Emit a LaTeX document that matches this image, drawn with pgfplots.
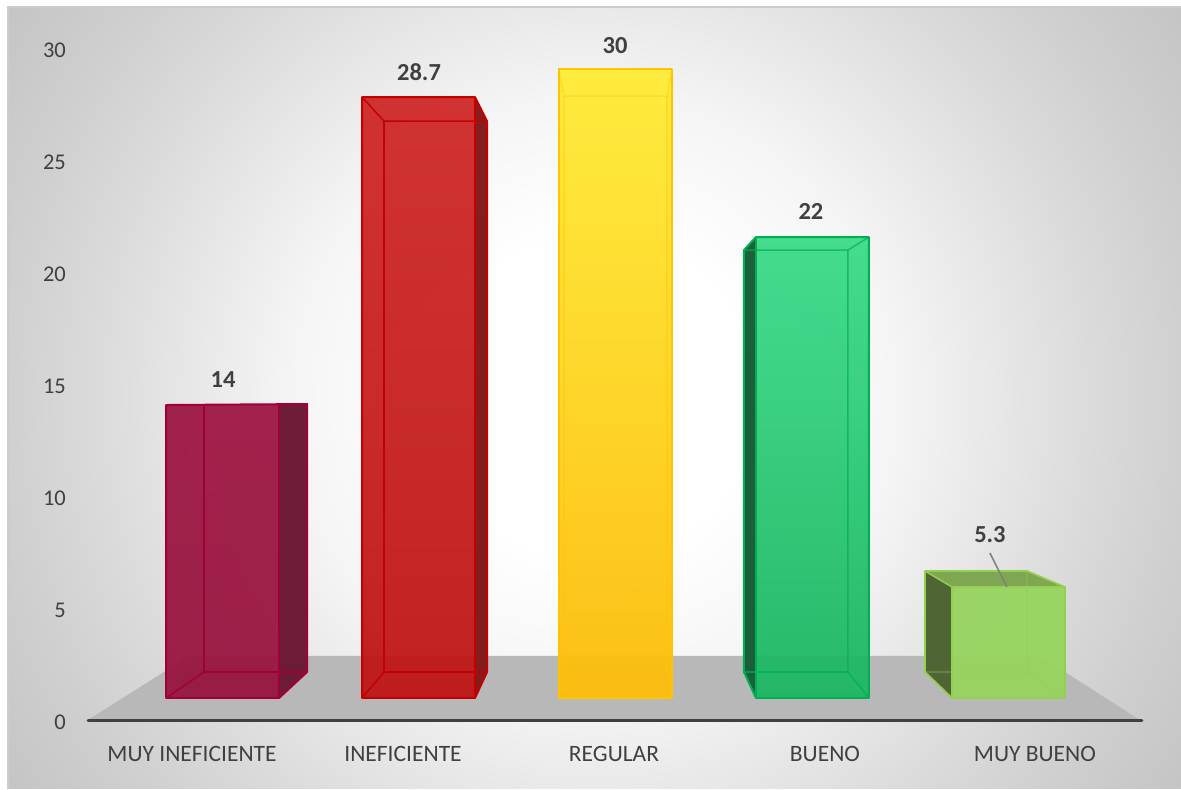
\documentclass[border=0pt]{standalone}
\usepackage{fontspec}
\setmainfont{Carlito}
\usepackage{pgfplots}
\pgfplotsset{compat=1.18}
\definecolor{txt}{HTML}{404040}
\definecolor{ba}{HTML}{9B113F}\definecolor{bab}{HTML}{96103B}\definecolor{bal}{HTML}{A00038}\definecolor{bas}{HTML}{6A1C36}
\definecolor{ca}{HTML}{CF2626}\definecolor{cab}{HTML}{BE1414}\definecolor{cal}{HTML}{C40000}\definecolor{cas}{HTML}{7F1E1E}
\definecolor{da}{HTML}{FFEC35}\definecolor{dab}{HTML}{FDBD0A}\definecolor{dal}{HTML}{FFC400}
\definecolor{ea}{HTML}{3CDB8A}\definecolor{eab}{HTML}{1CB662}\definecolor{eal}{HTML}{00B050}\definecolor{eas}{HTML}{1B5A38}
\definecolor{fa}{HTML}{98D45F}\definecolor{fal}{HTML}{92D050}\definecolor{fas}{HTML}{4F6535}\definecolor{fat}{HTML}{7FA650}
\definecolor{g1}{gray}{.96}\definecolor{g2}{gray}{.855}\definecolor{g3}{gray}{.815}\definecolor{g4}{gray}{.765}
\pgfdeclareradialshading{bgs}{\pgfpointorigin}{%
 color(0bp)=(white); color(5.5bp)=(white); color(10.5bp)=(g1);
 color(17.5bp)=(g2); color(20.5bp)=(g3);
 color(25bp)=(g4); color(50bp)=(g4)}
\begin{document}
\begin{tikzpicture}
\path (0,0) rectangle (1181pt,789pt);
\begin{scope}
\clip (8pt,0pt) rectangle (1181pt,782pt);
\shade[overlay,shading=bgs] (594pt,391pt) circle (720pt);
\end{scope}
\draw[overlay,color=black!20,line width=1.2pt] (8pt,0pt) -- (8pt,782pt) -- (1181pt,782pt);
\begin{axis}[
  scale only axis, width=1181pt, height=789pt,
  xmin=0, xmax=1181, ymin=-2.991, ymax=32.232,
  axis line style={draw=none},
  major tick length=0pt, no markers, clip=false,
  /pgf/number format/assume math mode=true,
  ytick={0,5,10,15,20,25,30},
  yticklabel style={anchor=east,inner sep=0pt,xshift=66pt,font=\fontsize{22.5}{24}\selectfont,text=txt},
  xtick={192,403,614,825,1035},
  xticklabels={MUY INEFICIENTE,INEFICIENTE,REGULAR,BUENO,MUY BUENO},
  xticklabel style={anchor=center,inner sep=0pt,yshift=35pt,font=\fontsize{23.5}{24}\selectfont,text=txt},
]
% floor and axis line
\addplot[draw=none,fill=black!28] coordinates {(88,0.089) (189,2.946) (1040,2.946) (1140,0.089)} -- cycle;
\addplot[draw=txt,line width=3pt,line cap=round] coordinates {(88,0.045) (1142,0.045)};

% bar 1: MUY INEFICIENTE
\addplot[draw=none,top color=ba,bottom color=bab,fill opacity=.92] coordinates {(166,14.152) (307,14.196) (307,2.232) (279,1.071) (166,1.071)} -- cycle;
\addplot[draw=none,fill=bas,fill opacity=.92] coordinates {(279,14.152) (307,14.196) (307,2.232) (279,1.071)} -- cycle;
\addplot[draw=bal,line width=1.5pt] coordinates {(204,14.196) (204,2.232) (307,2.232)};
\addplot[draw=bal,line width=1.5pt] coordinates {(166,1.071) (204,2.232)};
\addplot[draw=bal,line width=2pt,line join=round] coordinates {(166,14.152) (307,14.196) (307,2.232) (279,1.071) (166,1.071)} -- cycle;
\addplot[draw=bal,line width=1.7pt] coordinates {(279,14.152) (279,1.071)};

% bar 2: INEFICIENTE
\addplot[draw=none,top color=ca,bottom color=cab,fill opacity=.94] coordinates {(362,27.902) (475,27.902) (487,26.830) (487,2.232) (475,1.071) (362,1.071)} -- cycle;
\addplot[draw=none,fill=cas,fill opacity=.94] coordinates {(475,27.902) (487,26.830) (487,2.232) (475,1.071)} -- cycle;
\addplot[draw=cal,line width=1.5pt] coordinates {(362,27.902) (384,26.830) (487,26.830)};
\addplot[draw=cal,line width=1.5pt] coordinates {(384,26.830) (384,2.232) (487,2.232)};
\addplot[draw=cal,line width=1.5pt] coordinates {(362,1.071) (384,2.232)};
\addplot[draw=cal,line width=2pt,line join=round] coordinates {(362,27.902) (475,27.902) (487,26.830) (487,2.232) (475,1.071) (362,1.071)} -- cycle;
\addplot[draw=cal,line width=1.7pt] coordinates {(475,27.902) (475,1.071)};

% bar 3: REGULAR
\addplot[draw=none,top color=da,bottom color=dab,fill opacity=.95] coordinates {(559,29.152) (672,29.152) (672,1.071) (559,1.071)} -- cycle;
\addplot[draw=dal,draw opacity=.35,line width=1.5pt] coordinates {(559,29.152) (564,27.946) (667,27.946) (672,29.152)};
\addplot[draw=dal,draw opacity=.35,line width=1.5pt] coordinates {(564,27.946) (564,2.232) (667,2.232) (667,27.946)};
\addplot[draw=dal,draw opacity=.35,line width=1.5pt] coordinates {(559,1.071) (564,2.232)};
\addplot[draw=dal,draw opacity=.35,line width=1.5pt] coordinates {(672,1.071) (667,2.232)};
\addplot[draw=dal,line width=2pt,line join=round] coordinates {(559,29.152) (672,29.152) (672,1.071) (559,1.071)} -- cycle;

% bar 4: BUENO
\addplot[draw=none,top color=ea,bottom color=eab,fill opacity=.95] coordinates {(756,21.652) (869,21.652) (869,1.071) (756,1.071) (744,2.232) (744,21.071)} -- cycle;
\addplot[draw=none,fill=eas,fill opacity=.95] coordinates {(756,21.652) (756,1.071) (744,2.232) (744,21.071)} -- cycle;
\addplot[draw=eal,draw opacity=.7,line width=1.5pt] coordinates {(744,21.071) (848,21.071) (869,21.652)};
\addplot[draw=eal,draw opacity=.7,line width=1.5pt] coordinates {(848,21.071) (848,2.232) (869,1.071)};
\addplot[draw=eal,draw opacity=.7,line width=1.5pt] coordinates {(744,2.232) (848,2.232)};
\addplot[draw=eal,line width=2pt,line join=round] coordinates {(756,21.652) (869,21.652) (869,1.071) (756,1.071) (744,2.232) (744,21.071)} -- cycle;
\addplot[draw=eal,line width=1.7pt] coordinates {(756,21.652) (756,1.071)};

% bar 5: MUY BUENO
\addplot[draw=none,fill=fa,fill opacity=.96] coordinates {(952,6.027) (1065,6.027) (1065,1.071) (952,1.071)} -- cycle;
\addplot[draw=none,fill=fat] coordinates {(925,6.741) (1027,6.741) (1065,6.027) (952,6.027)} -- cycle;
\addplot[draw=none,fill=fas] coordinates {(925,6.741) (952,6.027) (952,1.071) (925,2.232)} -- cycle;
\addplot[draw=fal,draw opacity=.3,line width=1.5pt] coordinates {(1027,6.741) (1027,2.232) (925,2.232)};
\addplot[draw=fal,draw opacity=.3,line width=1.5pt] coordinates {(1027,2.232) (1065,1.071)};
\addplot[draw=fal,line width=1.7pt,line join=round] coordinates {(925,6.741) (1027,6.741) (1065,6.027) (1065,1.071) (952,1.071) (925,2.232)} -- cycle;
\addplot[draw=fal,line width=1.5pt] coordinates {(925,6.741) (952,6.027) (1065,6.027)};
\addplot[draw=fal,line width=1.5pt] coordinates {(952,6.027) (952,1.071)};

% leader line
\addplot[draw=black!50,line width=1.6pt] coordinates {(990,7.545) (1007,6.027)};

% data labels
\begin{scope}[every node/.style={font=\fontsize{24.5}{26}\selectfont\bfseries,text=txt,inner sep=0pt,anchor=center}]
\node at (axis cs:223,15.27) {14};
\node at (axis cs:419,29.02) {28.7};
\node at (axis cs:615,30.22) {30};
\node at (axis cs:811,22.8) {22};
\node at (axis cs:990,8.35) {5.3};
\end{scope}
\end{axis}
\end{tikzpicture}
\end{document}
